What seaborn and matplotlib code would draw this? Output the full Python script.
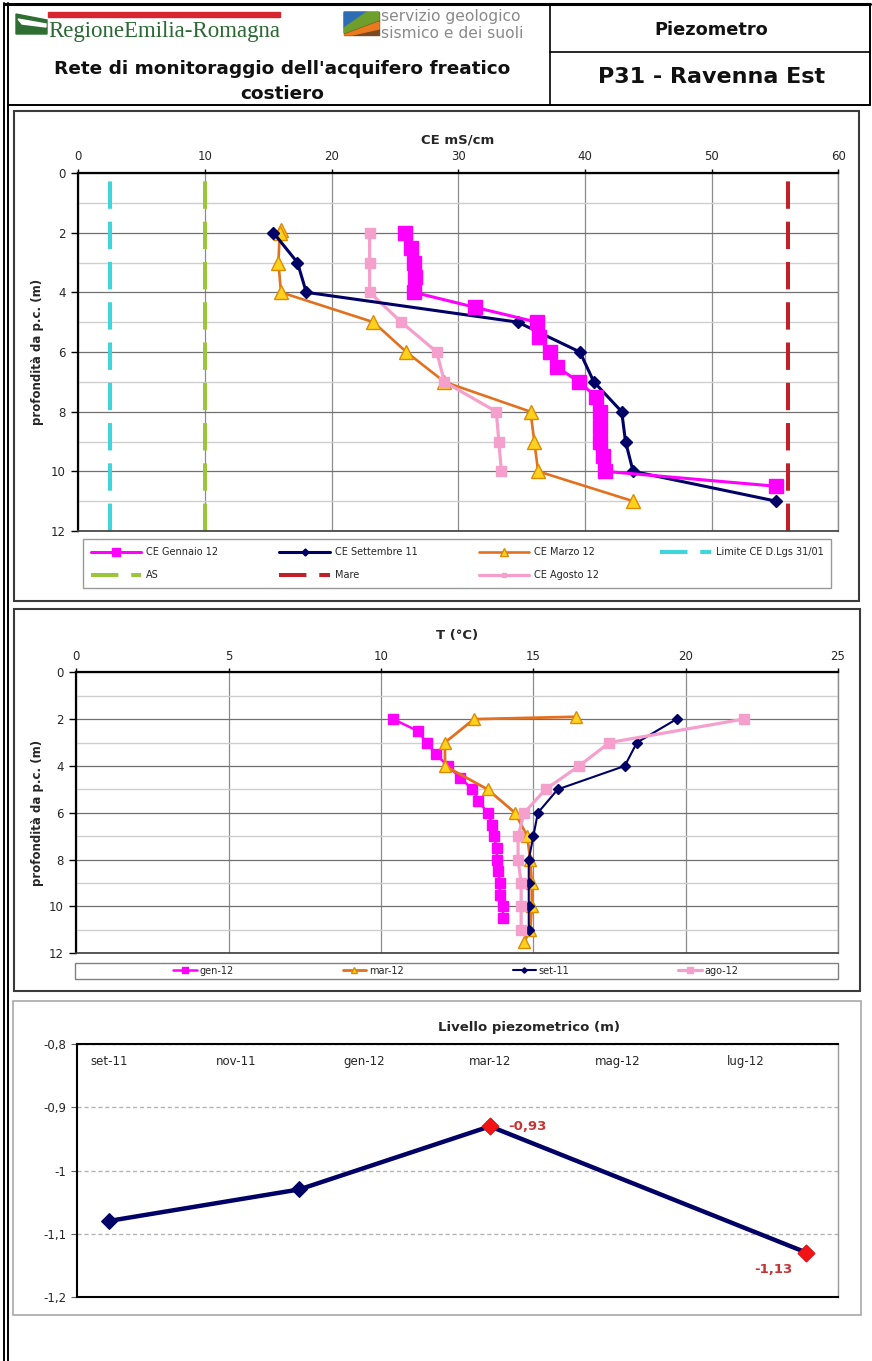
import numpy as np
import pandas as pd
import matplotlib
matplotlib.use("Agg")
import matplotlib.pyplot as plt
from matplotlib.lines import Line2D
from matplotlib.patches import Rectangle, Polygon
import seaborn as sns

# ---------------- Conducibilità elettrica (mS/cm) lungo il profilo ----------------
ce_gen_depth = [2, 2.5, 3, 3.5, 4, 4.5, 5, 5.5, 6, 6.5, 7, 7.5, 8, 8.5, 9, 9.5, 10, 10.5]
ce_gen = [25.8, 26.3, 26.5, 26.6, 26.5, 31.3, 36.2, 36.4, 37.2, 37.8, 39.5, 40.9, 41.2, 41.2, 41.2, 41.4, 41.6, 55.1]

ce_set_depth = [2, 3, 4, 5, 6, 7, 8, 9, 10, 11]
ce_set = [15.4, 17.3, 18.0, 34.7, 39.6, 40.7, 42.9, 43.2, 43.8, 55.1]

ce_mar_depth = [1.9, 2, 3, 4, 5, 6, 7, 8, 9, 10, 11]
ce_mar = [16.0, 15.9, 15.8, 16.0, 23.3, 25.9, 28.9, 35.7, 36.0, 36.3, 43.8]

ce_ago_depth = [2, 3, 4, 5, 6, 7, 8, 9, 10]
ce_ago = [23.0, 23.0, 23.0, 25.5, 28.3, 28.9, 33.0, 33.2, 33.4]

# soglie di riferimento (mS/cm)
ce_limite = 2.5
ce_as = 10
ce_mare = 56

# ---------------- Temperatura (°C) lungo il profilo ----------------
t_gen_depth = [2, 2.5, 3, 3.5, 4, 4.5, 5, 5.5, 6, 6.5, 7, 7.5, 8, 8.5, 9, 9.5, 10, 10.5]
t_gen = [10.4, 11.2, 11.5, 11.8, 12.2, 12.6, 13.0, 13.2, 13.5, 13.65, 13.7, 13.8, 13.8, 13.85, 13.9, 13.9, 14.0, 14.0]

t_mar_depth = [1.9, 2, 3, 4, 5, 6, 7, 8, 9, 10, 11, 11.5]
t_mar = [16.4, 13.05, 12.1, 12.1, 13.5, 14.4, 14.8, 14.9, 14.95, 14.95, 14.9, 14.7]

t_set_depth = [2, 3, 4, 5, 6, 7, 8, 9, 10, 11]
t_set = [19.7, 18.4, 18.0, 15.8, 15.15, 15.0, 14.85, 14.85, 14.85, 14.85]

t_ago_depth = [2, 3, 4, 5, 6, 7, 8, 9, 10, 11]
t_ago = [21.9, 17.5, 16.5, 15.4, 14.7, 14.5, 14.5, 14.6, 14.6, 14.6]

# ---------------- Livello piezometrico (m) ----------------
liv_dates = ["2011-09-01", "2011-12-01", "2012-03-01", "2012-07-30"]
liv_values = [-1.08, -1.03, -0.93, -1.13]
liv_tick_dates = ["2011-09-01", "2011-11-01", "2012-01-01", "2012-03-01", "2012-05-01", "2012-07-01"]
liv_tick_labels = ["set-11", "nov-11", "gen-12", "mar-12", "mag-12", "lug-12"]
liv_yticks = [-0.8, -0.9, -1.0, -1.1, -1.2]
liv_ylabels = ["-0,8", "-0,9", "-1", "-1,1", "-1,2"]

# ---------------- colori ----------------
MAGENTA = "#FF00FF"
NAVY = "#000066"
ORANGE = "#E3701E"
YELLOW = "#FFD21F"
PINK = "#F5A0CC"
CYAN = "#3FD5DC"
GREEN = "#9BC53D"
DARKRED = "#C0202A"

sns.set_style("white")
plt.rcParams["font.family"] = ["DejaVu Sans"]

W, H = 872, 1361
fig = plt.figure(figsize=(W / 100, H / 100), dpi=100)


def fx(x):
    return x / W


def fy(y):
    return 1 - y / H


def box(x0, y0, x1, y1):
    return [fx(x0), fy(y1), (x1 - x0) / W, (y1 - y0) / H]


def fig_line(xs, ys, **kw):
    fig.add_artist(Line2D([fx(v) for v in xs], [fy(v) for v in ys],
                          transform=fig.transFigure, **kw))


def fig_rect(x0, y0, x1, y1, **kw):
    fig.add_artist(Rectangle((fx(x0), fy(y1)), (x1 - x0) / W, (y1 - y0) / H,
                             transform=fig.transFigure, fill=False, **kw))


# ---------------- intestazione ----------------
fig_line([3.5, 3.5], [3, H], color="black", lw=1.4)
fig_line([8, 8], [3, H], color="black", lw=1.4)
fig_line([3.5, 870], [4, 4], color="black", lw=2.2)
fig_line([870, 870], [4, 105], color="black", lw=1.4)
fig_line([8, 870], [105, 105], color="black", lw=1.4)
fig_line([550, 550], [4, 105], color="black", lw=1.2)
fig_line([550, 870], [52, 52], color="black", lw=1.2)

# logo regione
fig.add_artist(Polygon([(fx(16), fy(14)), (fx(47), fy(20)), (fx(47), fy(34)), (fx(16), fy(34))],
                       closed=True, transform=fig.transFigure, color="#2F6E33"))
fig.add_artist(Polygon([(fx(18), fy(19)), (fx(46), fy(24)), (fx(46), fy(27)), (fx(22), fy(24))],
                       closed=True, transform=fig.transFigure, color="white"))
fig.add_artist(Rectangle((fx(48), fy(17)), 232 / W, 5 / H, transform=fig.transFigure,
                         color="#D7262F"))
fig.text(fx(48), fy(37.5), "RegioneEmilia-Romagna", family="Liberation Serif",
         fontsize=16.5, color="#2A6A32", ha="left", va="baseline")

# logo servizio geologico
gx0, gy0, gx1, gy1 = 344, 12, 379, 35
fig.add_artist(Polygon([(fx(gx0), fy(gy0)), (fx(gx1), fy(gy0)), (fx(gx1), fy(gy1)), (fx(gx0), fy(gy1))],
                       closed=True, transform=fig.transFigure, color="#7A4B22"))
fig.add_artist(Polygon([(fx(gx0), fy(gy0)), (fx(367), fy(gy0)), (fx(gx0), fy(28))],
                       closed=True, transform=fig.transFigure, color="#2C6DB5"))
fig.add_artist(Polygon([(fx(367), fy(gy0)), (fx(gx1), fy(gy0)), (fx(gx1), fy(20)), (fx(gx0), fy(33)), (fx(gx0), fy(28))],
                       closed=True, transform=fig.transFigure, color="#6E9E2C"))
fig.add_artist(Polygon([(fx(gx1), fy(22)), (fx(gx1), fy(29)), (fx(352), fy(gy1)), (fx(gx0), fy(gy1))],
                       closed=True, transform=fig.transFigure, color="#EB7A1E"))
fig.text(fx(381), fy(17), "servizio geologico", fontsize=11.2, color="#8A8A8A",
         ha="left", va="center")
fig.text(fx(381), fy(33.5), "sismico e dei suoli", fontsize=11.2, color="#8A8A8A",
         ha="left", va="center")

fig.text(fx(282), fy(69), "Rete di monitoraggio dell'acquifero freatico", fontsize=13.3,
         fontweight="bold", ha="center", va="center", color="#111111")
fig.text(fx(282), fy(94), "costiero", fontsize=13.3, fontweight="bold",
         ha="center", va="center", color="#111111")
fig.text(fx(711), fy(30), "Piezometro", fontsize=12.8, fontweight="bold",
         ha="center", va="center", color="#111111")
fig.text(fx(712), fy(77), "P31 - Ravenna Est", fontsize=16, fontweight="bold",
         ha="center", va="center", color="#111111")

# cornici dei pannelli
fig_rect(14, 111, 859, 601, edgecolor="#3A3A3A", lw=1.5)
fig_rect(14, 609, 860, 991, edgecolor="#3A3A3A", lw=1.5)
fig_rect(13, 1001, 861, 1315, edgecolor="#A8A8A8", lw=1.2)


def style_profile(ax, xmax, xstep):
    ax.set_xlim(0, xmax)
    ax.set_ylim(12, 0)
    ax.xaxis.tick_top()
    ax.set_xticks(np.arange(0, xmax + 1, xstep))
    ax.set_yticks(np.arange(0, 13, 2))
    ax.set_yticks(np.arange(1, 12, 2), minor=True)
    ax.grid(which="major", axis="x", color="#8C8C8C", lw=0.9)
    ax.grid(which="major", axis="y", color="#707070", lw=0.9)
    ax.grid(which="minor", axis="y", color="#CFCFCF", lw=1.0)
    ax.set_axisbelow(True)
    ax.tick_params(axis="x", which="major", top=True, bottom=False, labeltop=True,
                   labelbottom=False, length=3, width=1, color="black",
                   labelsize=8.5, pad=4)
    ax.tick_params(axis="y", which="major", left=True, length=5, width=1,
                   color="black", labelsize=8.5, pad=4)
    ax.tick_params(axis="y", which="minor", left=False, length=0)
    for s in ["top", "left"]:
        ax.spines[s].set_color("black")
        ax.spines[s].set_linewidth(1.6)
    ax.spines["bottom"].set_color("#3C3C3C")
    ax.spines["bottom"].set_linewidth(1.2)
    ax.spines["right"].set_color("#8C8C8C")
    ax.spines["right"].set_linewidth(1.0)
    ax.set_xlabel("")
    ax.set_ylabel("")


def profile(ax, x, depth, label, color, lw, marker, ms, mfc=None, mec=None, z=3):
    sns.lineplot(x=x, y=depth, sort=False, estimator=None, ax=ax, color=color,
                 lw=lw, marker=marker, markersize=ms,
                 markerfacecolor=mfc if mfc else color,
                 markeredgecolor=mec if mec else color,
                 markeredgewidth=1.0, label=label, zorder=z)


# ---------------- grafico CE ----------------
ax1 = fig.add_axes(box(78.3, 173, 838.3, 531))
dash = (0, (6.8, 3.2))
ax1.axvline(ce_limite, color=CYAN, lw=2.9, ls=dash, label="Limite CE D.Lgs 31/01", zorder=2)
ax1.axvline(ce_as, color=GREEN, lw=2.9, ls=dash, label="AS", zorder=2)
ax1.axvline(ce_mare, color=DARKRED, lw=2.9, ls=dash, label="Mare", zorder=2)
profile(ax1, ce_mar, ce_mar_depth, "CE Marzo 12", ORANGE, 1.9, "^", 9.5, YELLOW, "#E08A00", z=3)
profile(ax1, ce_ago, ce_ago_depth, "CE Agosto 12", PINK, 2.3, "s", 6.5, z=4)
profile(ax1, ce_set, ce_set_depth, "CE Settembre 11", NAVY, 2.2, "D", 6.5, z=5)
profile(ax1, ce_gen, ce_gen_depth, "CE Gennaio 12", MAGENTA, 2.2, "s", 9.5, z=6)
style_profile(ax1, 60, 10)
if ax1.get_legend():
    ax1.get_legend().remove()
fig.text(fx(458), fy(140), "CE mS/cm", fontsize=9.5, fontweight="bold",
         ha="center", va="center")
fig.text(fx(37), fy(352), "profondità da p.c. (m)", fontsize=8.5, fontweight="bold",
         rotation=90, ha="center", va="center")

h1, l1 = ax1.get_legend_handles_labels()
hmap1 = dict(zip(l1, h1))
order1 = ["CE Gennaio 12", "AS", "CE Settembre 11", "Mare", "CE Marzo 12",
          "CE Agosto 12", "Limite CE D.Lgs 31/01"]
leg1 = fig.legend([hmap1[k] for k in order1], order1, ncol=4, mode="expand",
                  loc="center", bbox_to_anchor=(fx(78), fy(589), (836 - 78) / W, (589 - 538) / H),
                  bbox_transform=fig.transFigure, fontsize=7, handlelength=5.2,
                  handletextpad=0.5, labelspacing=1.35, borderpad=0.8,
                  markerscale=0.55, fancybox=False, frameon=True)
leg1.get_frame().set_edgecolor("#808080")
leg1.get_frame().set_linewidth(1.0)

# ---------------- grafico T ----------------
ax2 = fig.add_axes(box(76.3, 672.3, 838, 953.3))
profile(ax2, t_gen, t_gen_depth, "gen-12", MAGENTA, 1.8, "s", 7, z=3)
profile(ax2, t_mar, t_mar_depth, "mar-12", ORANGE, 2.0, "^", 8.5, YELLOW, "#E08A00", z=4)
profile(ax2, t_set, t_set_depth, "set-11", NAVY, 1.5, "D", 5, z=5)
profile(ax2, t_ago, t_ago_depth, "ago-12", PINK, 2.3, "s", 7, z=6)
style_profile(ax2, 25, 5)
if ax2.get_legend():
    ax2.get_legend().remove()
fig.text(fx(457), fy(635), "T (°C)", fontsize=9.5, fontweight="bold",
         ha="center", va="center")
fig.text(fx(37), fy(813), "profondità da p.c. (m)", fontsize=8.5, fontweight="bold",
         rotation=90, ha="center", va="center")

h2, l2 = ax2.get_legend_handles_labels()
hmap2 = dict(zip(l2, h2))
order2 = ["gen-12", "mar-12", "set-11", "ago-12"]
fig.legend([hmap2[k] for k in order2], order2, ncol=4, loc="center",
           bbox_to_anchor=(fx(456), fy(970.5)), bbox_transform=fig.transFigure,
           fontsize=7, handlelength=2.4, handletextpad=0.3, columnspacing=11.2,
           markerscale=0.55, frameon=False, borderpad=0.2)
fig_rect(75, 962.5, 838, 978.5, edgecolor="#808080", lw=1.0)

# ---------------- grafico livello piezometrico ----------------
ax3 = fig.add_axes(box(77.3, 1044.3, 837.7, 1296.7))
liv_x = pd.to_datetime(liv_dates)
liv_y = np.array(liv_values)
sns.lineplot(x=liv_x, y=liv_y, ax=ax3, color=NAVY, lw=3.2, marker="D", markersize=8.5,
             markeredgecolor=NAVY, markerfacecolor=NAVY, sort=False, estimator=None, zorder=3)
hi = [int(np.argmax(liv_y)), int(np.argmin(liv_y))]
sns.scatterplot(x=liv_x[hi], y=liv_y[hi], ax=ax3, color="#F01414", marker="D", s=75,
                edgecolor="#F01414", zorder=4)


def fmt(v):
    return f"{v:.2f}".replace(".", ",")


ax3.annotate(fmt(liv_y[hi[0]]), (liv_x[hi[0]], liv_y[hi[0]]), xytext=(13, 0),
             textcoords="offset points", ha="left", va="center", color="#C83232",
             fontsize=9.5, fontweight="bold")
ax3.annotate(fmt(liv_y[hi[1]]), (liv_x[hi[1]], liv_y[hi[1]]), xytext=(-24, -12),
             textcoords="offset points", ha="center", va="center", color="#C83232",
             fontsize=9.5, fontweight="bold")

ax3.set_xlim(pd.Timestamp("2011-08-17"), pd.Timestamp("2012-08-14"))
ax3.set_ylim(-1.2, -0.8)
ax3.xaxis.tick_top()
ax3.set_xticks(pd.to_datetime(liv_tick_dates))
ax3.set_xticklabels(liv_tick_labels)
ax3.tick_params(axis="x", top=True, bottom=False, labeltop=True, labelbottom=False,
                length=0, pad=-17, labelsize=8.5)
ax3.set_yticks(liv_yticks)
ax3.set_yticklabels(liv_ylabels)
ax3.tick_params(axis="y", left=True, length=4, width=0.8, color="#606060",
                labelsize=8.5, pad=4)
ax3.yaxis.grid(True, color="#B4B4B4", lw=1.0, ls=(0, (3, 2)))
ax3.xaxis.grid(False)
for s in ["top", "left", "bottom"]:
    ax3.spines[s].set_color("black")
    ax3.spines[s].set_linewidth(1.5)
ax3.spines["right"].set_color("#9A9A9A")
ax3.spines["right"].set_linewidth(1.0)
ax3.set_xlabel("")
ax3.set_ylabel("")
if ax3.get_legend():
    ax3.get_legend().remove()
fig.text(fx(529), fy(1027), "Livello piezometrico (m)", fontsize=9.5, fontweight="bold",
         ha="center", va="center")

fig.savefig("out.png", dpi=100)
